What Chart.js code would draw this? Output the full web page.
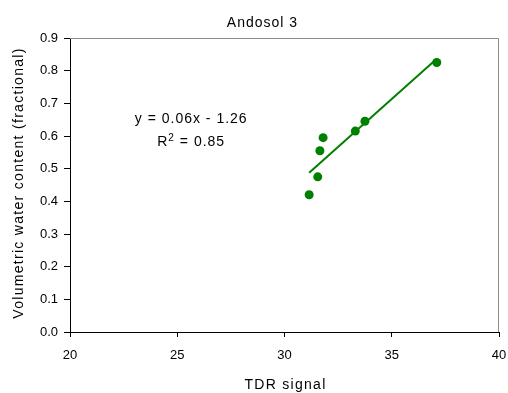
<!DOCTYPE html>
<html>
<head>
<meta charset="utf-8">
<script src="https://cdn.jsdelivr.net/npm/chart.js@4"></script>
<style>
  html, body { margin: 0; padding: 0; background: #fff; }
  #wrap { width: 508px; height: 393px; }
</style>
</head>
<body>
<div id="wrap"><canvas id="chart"></canvas></div>
<script>
// TDR signal vs volumetric water content, Andosol 3
const tdrSignal = [31.15, 31.55, 31.65, 31.8, 33.3, 33.75, 37.1];
const waterContent = [0.42, 0.475, 0.555, 0.595, 0.615, 0.645, 0.825];
const xTicks = [20, 25, 30, 35, 40];
const yTicks = [0.0, 0.1, 0.2, 0.3, 0.4, 0.5, 0.6, 0.7, 0.8, 0.9];
const chartTitle = 'Andosol 3';
const xTitle = 'TDR signal';
const yTitle = 'Volumetric water content (fractional)';
const equation = 'y = 0.06x - 1.26';
const rSquared = '0.85';

const green = '#008000';
const fontFamily = '"Liberation Sans", Arial, sans-serif';

// least squares trend line over the data range
function trend(xs, ys) {
    const n = xs.length;
    const mx = xs.reduce((a, b) => a + b, 0) / n;
    const my = ys.reduce((a, b) => a + b, 0) / n;
    let sxy = 0, sxx = 0;
    for (let i = 0; i < n; i++) {
        sxy += (xs[i] - mx) * (ys[i] - my);
        sxx += (xs[i] - mx) * (xs[i] - mx);
    }
    const slope = sxy / sxx;
    const icpt = my - slope * mx;
    const x0 = Math.min(...xs), x1 = Math.max(...xs);
    return [{x: x0, y: slope * x0 + icpt}, {x: x1, y: slope * x1 + icpt}];
}

const points = tdrSignal.map((x, i) => ({x: x, y: waterContent[i]}));

// frame, titles and the trend line equation
const textPlugin = {
    id: 'texts',
    beforeDatasetsDraw(chart) {
        const {ctx, chartArea: a} = chart;
        ctx.save();
        ctx.strokeStyle = '#8c8c8c';
        ctx.lineWidth = 1;
        ctx.beginPath();
        ctx.moveTo(a.left, a.top + 0.5);
        ctx.lineTo(a.right - 0.5, a.top + 0.5);
        ctx.lineTo(a.right - 0.5, a.bottom);
        ctx.stroke();
        ctx.restore();
    },
    afterDraw(chart) {
        const {ctx, chartArea: a} = chart;
        const xs = chart.scales.x, ys = chart.scales.y;
        ctx.save();
        ctx.fillStyle = '#000';
        ctx.textBaseline = 'alphabetic';
        ctx.textAlign = 'center';
        ctx.font = '14px ' + fontFamily;

        ctx.letterSpacing = '1px';
        ctx.fillText(chartTitle, (a.left + a.right) / 2 - 22, 27);

        ctx.letterSpacing = '1.3px';
        ctx.fillText(xTitle, (a.left + a.right) / 2 + 1, 389);
        ctx.save();
        ctx.translate(23, (a.top + a.bottom) / 2 - 2);
        ctx.rotate(-Math.PI / 2);
        ctx.fillText(yTitle, 0, 0);
        ctx.restore();

        // equation text placed in data coordinates
        ctx.letterSpacing = '1px';
        const cx = xs.getPixelForValue(25.65);
        ctx.fillText(equation, cx, ys.getPixelForValue(0.64));
        const y2 = ys.getPixelForValue(0.569);
        const rest = ' = ' + rSquared;
        const wBase = ctx.measureText('R').width;
        const wRest = ctx.measureText(rest).width;
        ctx.font = '10px ' + fontFamily;
        const wSup = ctx.measureText('2').width;
        const left = cx - (wBase + wSup + wRest) / 2;
        ctx.textAlign = 'left';
        ctx.font = '14px ' + fontFamily;
        ctx.fillText('R', left, y2);
        ctx.font = '10px ' + fontFamily;
        ctx.fillText('2', left + wBase, y2 - 5);
        ctx.font = '14px ' + fontFamily;
        ctx.fillText(rest, left + wBase + wSup, y2);
        ctx.restore();
    }
};

new Chart(document.getElementById('chart'), {
    type: 'scatter',
    data: {
        datasets: [{
            label: 'Andosol 3',
            data: points,
            backgroundColor: green,
            borderColor: green,
            pointRadius: 4.5,
            pointHoverRadius: 4.5,
            pointBorderWidth: 0
        }, {
            type: 'line',
            label: 'trend',
            data: trend(tdrSignal, waterContent),
            borderColor: green,
            borderWidth: 2,
            pointRadius: 0,
            fill: false
        }]
    },
    options: {
        responsive: true,
        maintainAspectRatio: false,
        animation: false,
        layout: { padding: { left: 0, right: 9, top: 38, bottom: 0 } },
        plugins: {
            legend: { display: false },
            tooltip: { enabled: false },
            title: { display: false }
        },
        scales: {
            x: {
                type: 'linear',
                min: 20,
                max: 40,
                afterBuildTicks: s => { s.ticks = xTicks.map(v => ({value: v})); },
                afterFit: s => { s.height = 61; s.paddingLeft = 0; s.paddingRight = 0; },
                grid: { drawOnChartArea: false, tickLength: 5, color: '#000' },
                border: { color: '#000' },
                ticks: { color: '#000', padding: 11, font: { family: fontFamily, size: 13 } }
            },
            y: {
                min: 0,
                max: 0.9,
                afterBuildTicks: s => { s.ticks = yTicks.map(v => ({value: v})); },
                afterFit: s => { s.width = 70; s.paddingTop = 0; s.paddingBottom = 0; },
                grid: { drawOnChartArea: false, tickLength: 6, color: '#000' },
                border: { color: '#000' },
                ticks: {
                    color: '#000',
                    padding: 6,
                    font: { family: fontFamily, size: 13 },
                    callback: v => Number(v).toFixed(1)
                }
            }
        }
    },
    plugins: [textPlugin]
});
</script>
</body>
</html>
